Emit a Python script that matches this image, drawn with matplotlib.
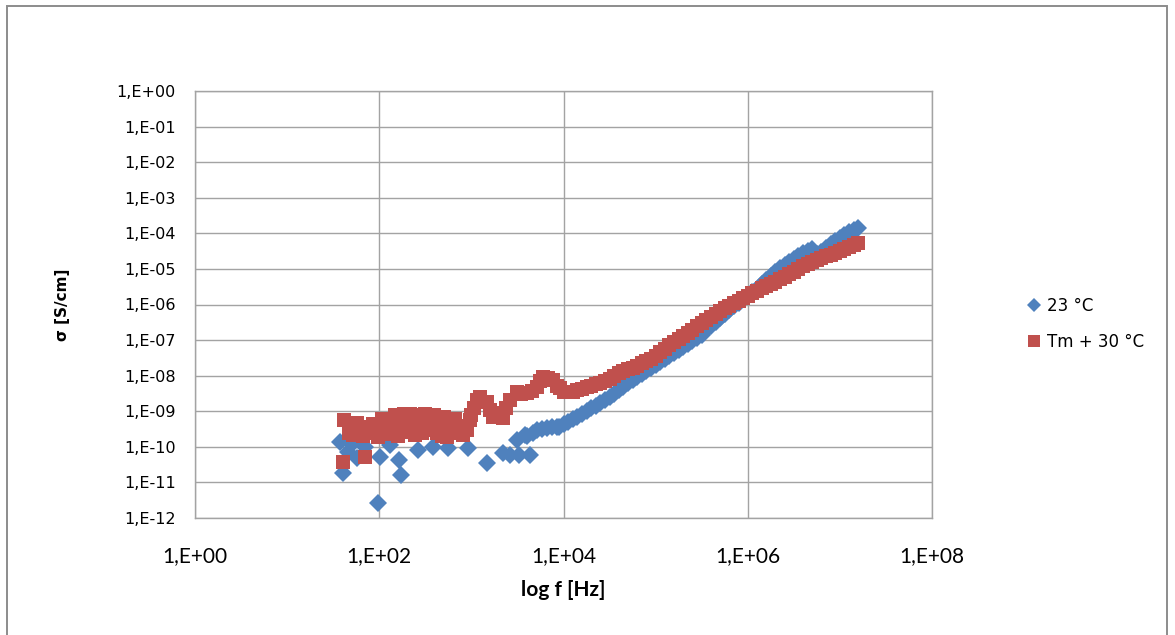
import matplotlib
matplotlib.use("Agg")
import matplotlib.pyplot as plt
from matplotlib.patches import Rectangle


# 23 °C: scattered low-frequency points, then the dense rising branch
freq_23 = [
    37.5, 40.5, 45.8, 50, 57.4, 70, 97, 102, 130, 165, 172, 264, 384, 558,
    921, 1480, 2210, 2630, 3130, 3300, 3830, 4000, 4340, 4700, 5160, 5800,
    6630, 7500, 8530,
    8913, 1.0e4, 1.122e4, 1.259e4, 1.413e4, 1.585e4, 1.778e4, 1.995e4,
    2.239e4, 2.512e4, 2.818e4, 3.162e4, 3.548e4, 3.981e4, 4.467e4, 5.012e4,
    5.623e4, 6.310e4, 7.079e4, 7.943e4, 8.913e4,
    1.0e5, 1.122e5, 1.259e5, 1.413e5, 1.585e5, 1.778e5, 1.995e5, 2.239e5,
    2.512e5, 2.818e5, 3.162e5, 3.548e5, 3.981e5, 4.467e5, 5.012e5, 5.623e5,
    6.310e5, 7.079e5, 7.943e5, 8.913e5,
    1.0e6, 1.122e6, 1.259e6, 1.413e6, 1.585e6, 1.778e6, 1.995e6, 2.239e6,
    2.512e6, 2.818e6, 3.162e6, 3.548e6, 3.981e6, 4.467e6, 5.012e6, 5.623e6,
    6.310e6, 7.079e6, 7.943e6, 8.913e6,
    1.0e7, 1.122e7, 1.259e7, 1.413e7, 1.585e7,
]
sigma_23 = [
    1.38e-10, 1.86e-11, 7.2e-11, 1.2e-10, 4.9e-11, 1.0e-10, 2.7e-12, 5.2e-11,
    1.1e-10, 4.3e-11, 1.63e-11, 8.3e-11, 1.0e-10, 9.4e-11, 9.4e-11, 3.55e-11,
    6.8e-11, 6.0e-11, 1.58e-10, 6.0e-11, 2.18e-10, 2.0e-10, 6.0e-11, 2.5e-10,
    3.0e-10, 3.2e-10, 3.4e-10, 3.5e-10, 3.6e-10,
    3.6e-10, 4.4e-10, 5.0e-10, 6.1e-10, 7.0e-10, 8.5e-10, 1.03e-9, 1.25e-9,
    1.42e-9, 1.72e-9, 2.09e-9, 2.54e-9, 3.08e-9, 3.99e-9, 4.85e-9, 6.3e-9,
    7.6e-9, 9.25e-9, 1.12e-8, 1.36e-8, 1.66e-8,
    2.01e-8, 2.44e-8, 2.96e-8, 3.6e-8, 4.37e-8, 5.3e-8, 6.44e-8, 7.8e-8,
    9.5e-8, 1.15e-7, 1.40e-7, 1.94e-7, 2.51e-7, 3.24e-7, 4.2e-7, 5.44e-7,
    7.05e-7, 9.1e-7, 1.11e-6, 1.44e-6,
    1.75e-6, 2.26e-6, 2.74e-6, 3.79e-6, 4.91e-6, 6.35e-6, 8.2e-6, 1.07e-5,
    1.29e-5, 1.57e-5, 1.91e-5, 2.32e-5, 2.81e-5, 3.2e-5, 3.65e-5, 2.64e-5,
    3.0e-5, 3.89e-5, 5.0e-5, 6.1e-5,
    7.4e-5, 9.0e-5, 1.09e-4, 1.25e-4, 1.42e-4,
]

# Tm + 30 °C
freq_tm30 = [
    40.5, 41, 47, 48, 52, 54, 58, 62, 66, 70, 75, 80, 86, 92, 96, 102, 108,
    115, 122, 131, 140, 150, 158, 168, 176, 185, 192, 200, 215, 233, 245,
    255, 265, 277, 290, 300, 315, 330, 350, 370, 395, 424, 440, 457, 480,
    500, 525, 545, 580, 620, 660, 700, 750, 813, 850, 900, 968, 1000,
    1060, 1150, 1240, 1480, 1600, 1720, 2050, 2210, 2400, 2630, 3130,
    3500, 4020, 4600, 5160, 5500, 6010, 6800, 7710, 8500, 9180,
    1.0e4, 1.122e4, 1.259e4, 1.413e4, 1.585e4, 1.778e4, 1.995e4, 2.239e4,
    2.512e4, 2.818e4, 3.162e4, 3.548e4, 3.981e4, 4.467e4, 5.012e4, 5.623e4,
    6.310e4, 7.079e4, 7.943e4, 8.913e4,
    1.0e5, 1.122e5, 1.259e5, 1.413e5, 1.585e5, 1.778e5, 1.995e5, 2.239e5,
    2.512e5, 2.818e5, 3.162e5, 3.548e5, 3.981e5, 4.467e5, 5.012e5, 5.623e5,
    6.310e5, 7.079e5, 7.943e5, 8.913e5,
    1.0e6, 1.122e6, 1.259e6, 1.413e6, 1.585e6, 1.778e6, 1.995e6, 2.239e6,
    2.512e6, 2.818e6, 3.162e6, 3.548e6, 3.981e6, 4.467e6, 5.012e6, 5.623e6,
    6.310e6, 7.079e6, 7.943e6, 8.913e6,
    1.0e7, 1.122e7, 1.259e7, 1.413e7, 1.585e7,
]
sigma_tm30 = [
    3.8e-11, 5.7e-10, 2.47e-10, 4.0e-10, 2.2e-10, 3.0e-10, 4.6e-10, 3.4e-10,
    2.0e-10, 5.2e-11, 2.8e-10, 3.6e-10, 4.4e-10, 2.5e-10, 1.9e-10, 3.0e-10,
    6.2e-10, 4.5e-10, 2.3e-10, 5.7e-10, 3.5e-10, 8.0e-10, 2.0e-10, 7.9e-10,
    4.0e-10, 8.5e-10, 2.6e-10, 5.7e-10, 8.2e-10, 3.0e-10, 2.2e-10,
    5.0e-10, 3.6e-10, 6.9e-10, 2.4e-10, 8.0e-10, 8.4e-10, 4.7e-10, 3.0e-10,
    6.0e-10, 8.0e-10, 2.47e-10, 3.6e-10, 5.7e-10, 2.0e-10,
    7.0e-10, 4.4e-10, 1.9e-10, 2.4e-10, 5.0e-10, 6.0e-10, 3.6e-10, 2.6e-10,
    2.18e-10, 3.8e-10, 3.0e-10, 5.7e-10, 8.0e-10,
    1.2e-9, 2.1e-9, 2.5e-9, 1.8e-9, 1.1e-9, 6.9e-10, 9.1e-10, 6.5e-10,
    1.2e-9, 2.1e-9, 3.5e-9,
    3.0e-9, 3.3e-9, 3.8e-9, 4.9e-9, 7.0e-9, 9.3e-9, 8.5e-9, 7.6e-9, 5.0e-9,
    4.6e-9,
    3.51e-9, 3.5e-9, 3.51e-9, 3.99e-9, 4.26e-9, 4.84e-9, 5.17e-9, 5.88e-9,
    6.28e-9, 7.1e-9, 8.13e-9, 9.9e-9, 1.2e-8, 1.36e-8, 1.55e-8, 1.66e-8,
    1.88e-8, 2.29e-8, 2.6e-8, 2.96e-8,
    3.6e-8, 4.67e-8, 5.66e-8, 7.3e-8, 8.9e-8, 1.08e-7, 1.31e-7, 1.59e-7,
    1.94e-7, 2.5e-7, 3.04e-7, 3.69e-7, 4.49e-7, 5.44e-7, 6.61e-7, 8.0e-7,
    9.14e-7, 1.11e-6, 1.26e-6, 1.53e-6,
    1.75e-6, 2.12e-6, 2.41e-6, 2.92e-6, 3.33e-6, 3.79e-6, 4.31e-6, 5.24e-6,
    5.96e-6, 7.24e-6, 8.24e-6, 1.0e-5, 1.21e-5, 1.38e-5, 1.57e-5, 1.79e-5,
    2.04e-5, 2.32e-5, 2.47e-5, 2.81e-5,
    3.2e-5, 3.65e-5, 4.15e-5, 4.72e-5, 5.38e-5,
]

x_ticks = [1e0, 1e2, 1e4, 1e6, 1e8]
x_tick_labels = ["1,E+00", "1,E+02", "1,E+04", "1,E+06", "1,E+08"]
y_ticks = [1e0, 1e-1, 1e-2, 1e-3, 1e-4, 1e-5, 1e-6, 1e-7, 1e-8, 1e-9,
           1e-10, 1e-11, 1e-12]
y_tick_labels = [
    "1,E+00", "1,E-01", "1,E-02", "1,E-03", "1,E-04", "1,E-05", "1,E-06",
    "1,E-07", "1,E-08", "1,E-09", "1,E-10", "1,E-11", "1,E-12",
]

BLUE = "#4F81BD"
RED = "#C0504D"
GRID = "#a3a3a3"
NARROW = ["Lato", "DejaVu Sans"]

W, H = 1175, 635
fig = plt.figure(figsize=(W / 100, H / 100), dpi=100)
ax = fig.add_axes([195 / W, 1 - 518 / H, (932 - 195) / W, (518 - 91) / H])

ax.plot(freq_23, sigma_23, linestyle="none", marker="D", markersize=9.3,
        color=BLUE, markeredgewidth=0, label="23 °C")
ax.plot(freq_tm30, sigma_tm30, linestyle="none", marker="s", markersize=10.5,
        color=RED, markeredgewidth=0, label="Tm + 30 °C")

ax.set_xscale("log")
ax.set_yscale("log")
ax.set_xlim(1e0, 1e8)
ax.set_ylim(1e-12, 1e0)

ax.set_xticks(x_ticks)
ax.set_xticklabels(x_tick_labels, fontfamily=NARROW, fontsize=15)
ax.set_yticks(y_ticks)
ax.set_yticklabels(y_tick_labels, fontfamily="DejaVu Sans", fontsize=11.5)
ax.minorticks_off()
ax.tick_params(axis="x", length=0, pad=20)
ax.tick_params(axis="y", length=0, pad=14)

ax.grid(True, color=GRID, linewidth=1.0)
ax.set_axisbelow(True)
for side in ["left", "right", "top", "bottom"]:
    ax.spines[side].set_color(GRID)
    ax.spines[side].set_linewidth(1.0)

fig.text(563 / W, 1 - 590 / H, "log f [Hz]", ha="center", va="center",
         fontfamily=NARROW, fontweight="bold", fontsize=15)
fig.text(62 / W, 1 - 305 / H, "σ [S/cm]", ha="center", va="center",
         rotation=90, fontfamily="DejaVu Sans", fontweight="bold", fontsize=11)

ax.legend(loc="center left", bbox_to_anchor=(1018 / W, 1 - 324 / H),
          bbox_transform=fig.transFigure, frameon=False,
          prop={"family": "DejaVu Sans", "size": 12},
          handlelength=0.9, handletextpad=0.35, labelspacing=1.1,
          markerscale=0.8, borderpad=0)

# outer chart frame (open at the bottom edge)
fig.add_artist(Rectangle((7 / W, -0.05), (1167 - 7) / W, 1.05 - 6 / H,
                         transform=fig.transFigure, fill=False,
                         edgecolor="#8c8c8c", linewidth=1.4))

fig.savefig("out.png", dpi=100)
